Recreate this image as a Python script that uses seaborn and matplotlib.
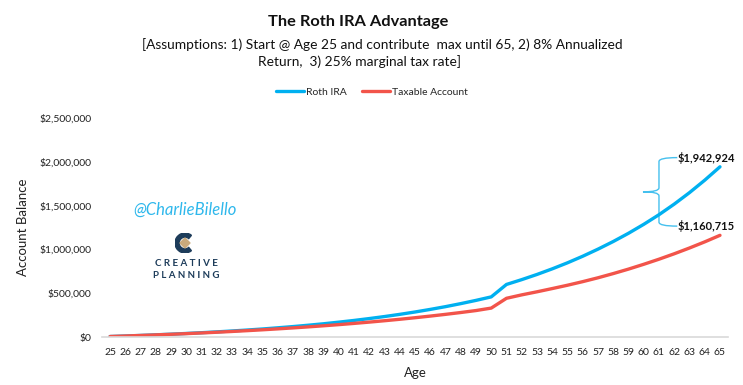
import numpy as np
import pandas as pd
import matplotlib
matplotlib.use("Agg")
import matplotlib.pyplot as plt
import seaborn as sns
from matplotlib.path import Path
from matplotlib.patches import PathPatch, Wedge, Polygon
from matplotlib.ticker import FuncFormatter

# ── Data ──────────────────────────────────────────────────────────────────────
AGES = list(range(25, 66))

ROTH_IRA = [
    5500, 11440, 17855, 24784, 32266, 40348, 49076, 58502, 68682, 79677,
    91551, 105000, 119000, 134500, 151000, 169500, 189000, 210500, 233500, 258500,
    285500, 315000, 346500, 381000, 418000, 458000, 600000, 655000, 714000, 778000,
    847000, 922000, 1003000, 1090000, 1184000, 1286000, 1396000, 1517000, 1648000, 1790000,
    1942924,
]

TAXABLE = [
    5500, 11300, 17500, 24100, 31000, 38400, 46200, 54400, 63200, 72500,
    82300, 92800, 103900, 115600, 128000, 141200, 155200, 170000, 185700, 202300,
    220000, 238700, 258500, 279500, 302000, 330000, 442000, 481000, 516000, 553000,
    591000, 632000, 676000, 724000, 775000, 830000, 888000, 950000, 1016000, 1086000,
    1160715,
]

SERIES = ["Roth IRA", "Taxable Account"]
COLORS = {"Roth IRA": "#00B0F0", "Taxable Account": "#F2544A"}
Y_TICKS = [0, 500000, 1000000, 1500000, 2000000, 2500000]

# ── Setup ─────────────────────────────────────────────────────────────────────
sns.set_theme(style="white")
plt.rcParams["font.family"] = ["Lato", "DejaVu Sans"]

W, H = 743, 385
fx = lambda x: x / W
fy = lambda y: 1 - y / H

df = pd.DataFrame({"Age": AGES * 2,
                   "Balance": ROTH_IRA + TAXABLE,
                   "Account": [SERIES[0]] * len(AGES) + [SERIES[1]] * len(AGES)})

fig = plt.figure(figsize=(W / 100, H / 100), dpi=100)
ax = fig.add_axes([fx(102.4), 48 / H, 625.2 / W, 219 / H])

sns.lineplot(data=df, x="Age", y="Balance", hue="Account", hue_order=SERIES,
             palette=COLORS, linewidth=2.4, ax=ax, legend=False)

ax.set_xlim(AGES[0] - 0.5, AGES[-1] + 0.5)
ax.set_ylim(0, Y_TICKS[-1])
ax.set_xticks(AGES)
ax.set_yticks(Y_TICKS)
ax.yaxis.set_major_formatter(FuncFormatter(lambda v, _: f"${v:,.0f}"))
ax.tick_params(length=0, labelsize=7.5, pad=8, colors="#222222")
for s in ["top", "right", "left"]:
    ax.spines[s].set_visible(False)
ax.spines["bottom"].set_color("#D9D9D9")
ax.spines["bottom"].set_linewidth(1.2)

ax.set_xlabel("Age", fontsize=9.5, color="#222222")
ax.set_ylabel("Account Balance", fontsize=9.5, color="#222222")
ax.xaxis.set_label_coords(0.5, -0.137)
ax.yaxis.set_label_coords(-0.117, 0.5)

# ── End labels + brace ────────────────────────────────────────────────────────
for vals in (ROTH_IRA, TAXABLE):
    ax.annotate(f"${vals[-1]:,.0f}", xy=(AGES[-1], vals[-1]), xytext=(-42, 9),
                textcoords="offset pixels", ha="left", va="center",
                fontsize=8, fontweight="bold", color="#111111", annotation_clip=False)

top, bot = ROTH_IRA[-1] + 105000, TAXABLE[-1] + 105000
mid, r = (top + bot) / 2, 45000
xv, xt, xa = 61.0, 59.95, 62.2
verts = [(xa, top), (xv, top), (xv, top - r),
         (xv, mid + r), (xv, mid), (xt, mid),
         (xv, mid), (xv, mid - r),
         (xv, bot + r), (xv, bot), (xa, bot)]
codes = [Path.MOVETO, Path.CURVE3, Path.CURVE3,
         Path.LINETO, Path.CURVE3, Path.CURVE3,
         Path.CURVE3, Path.CURVE3,
         Path.LINETO, Path.CURVE3, Path.CURVE3]
ax.add_patch(PathPatch(Path(verts, codes), fill=False, edgecolor="#45C0EE",
                       linewidth=1.0, clip_on=False))

# ── Titles and legend ─────────────────────────────────────────────────────────
fig.text(fx(358), fy(22), "The Roth IRA Advantage", ha="center", va="center",
         fontsize=11.8, fontweight="bold", color="#111111")
fig.text(fx(142), fy(45), "[Assumptions: 1) Start @ Age 25 and contribute  max until 65, 2) 8% Annualized",
         ha="left", va="center", fontsize=9.9, color="#111111")
fig.text(fx(258), fy(62), "Return,  3) 25% marginal tax rate]",
         ha="left", va="center", fontsize=9.9, color="#111111")

handles = [plt.Line2D([], [], color=COLORS[s], linewidth=2.4) for s in SERIES]
fig.legend(handles, SERIES, loc="center", bbox_to_anchor=(fx(372), fy(92)), ncol=2,
           frameon=False, fontsize=7.5, handlelength=2.7, handletextpad=0.2,
           columnspacing=1.5, borderaxespad=0)

# ── Watermark / logo ──────────────────────────────────────────────────────────
fig.text(fx(185), fy(210), "@CharlieBilello", ha="center", va="center",
         fontsize=12, style="italic", color="#2FB8EC")

lax = fig.add_axes([fx(175), fy(253), 20 / W, 20 / H])
lax.set_xlim(-1, 1); lax.set_ylim(-1, 1); lax.axis("off")
lax.add_patch(Wedge((0, 0), 1.0, 50, 310, width=0.42, color="#1D3C5A"))
lax.add_patch(Polygon([(0, 0.5), (0.5, 0), (0, -0.5), (-0.5, 0)], closed=True, color="#C9AA7C"))

fig.text(fx(186), fy(264), "C R E A T I V E", ha="center", va="center",
         fontsize=7, fontweight="bold", color="#1D3C5A")
fig.text(fx(186), fy(276), "P L A N N I N G", ha="center", va="center",
         fontsize=7, fontweight="bold", color="#1D3C5A")

fig.savefig("out.png", dpi=100, facecolor="white")
